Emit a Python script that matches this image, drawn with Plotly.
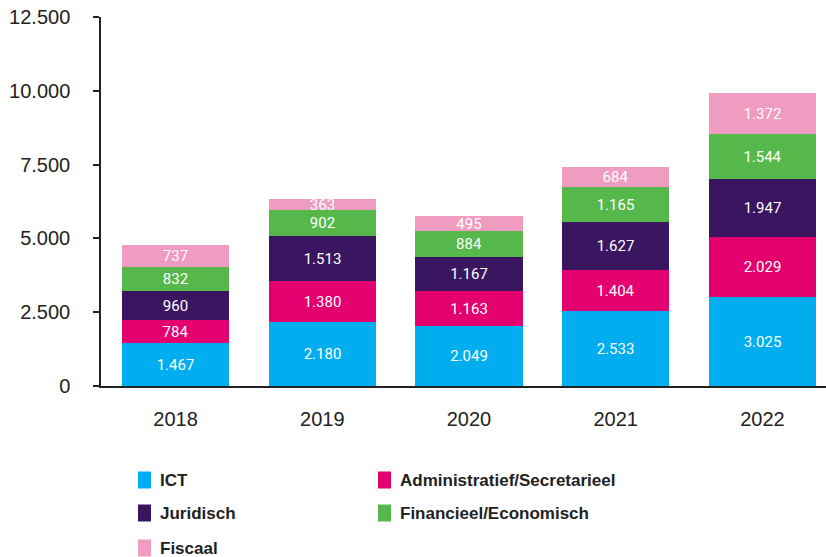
import plotly.graph_objects as go

years = ["2018", "2019", "2020", "2021", "2022"]
series_names = ["ICT", "Administratief/Secretarieel", "Juridisch", "Financieel/Economisch", "Fiscaal"]
ict = [1467, 2180, 2049, 2533, 3025]
administratief = [784, 1380, 1163, 1404, 2029]
juridisch = [960, 1513, 1167, 1627, 1947]
financieel = [832, 902, 884, 1165, 1544]
fiscaal = [737, 363, 495, 684, 1372]
series_values = [ict, administratief, juridisch, financieel, fiscaal]
colors = ["#00AEEF", "#E5006F", "#3A1560", "#56B84A", "#F09BC0"]
y_ticks = [0, 2500, 5000, 7500, 10000, 12500]

W, H = 826, 557
L, R, T, B = 101, 0, 17, 171

fig = go.Figure()
for name, vals, col in zip(series_names, series_values, colors):
    fig.add_trace(go.Bar(
        x=list(range(len(years))), y=vals, name=name,
        marker=dict(color=col, line=dict(width=0)),
        width=0.73,
        texttemplate="%{y:,d}", textposition="inside",
        insidetextanchor="middle", textangle=0,
        textfont=dict(family="Roboto", size=15, color="white"),
        constraintext="none", showlegend=False, hoverinfo="skip",
    ))

# legend drawn by hand: squares + bold labels in two columns
def px(x):
    return (x - L) / (W - L - R)

def py(y):
    return (H - B - y) / (H - T - B)

legend_pos = [(138, 480), (378, 480), (138, 513), (378, 513), (138, 548)]
shapes, annotations = [], []
for name, col, (lx, ly) in zip(series_names, colors, legend_pos):
    shapes.append(dict(type="rect", xref="paper", yref="paper",
                       x0=px(lx), x1=px(lx + 13), y0=py(ly - 8.5), y1=py(ly + 8.5),
                       fillcolor=col, line=dict(width=0)))
    annotations.append(dict(xref="paper", yref="paper", x=px(lx + 20), y=py(ly),
                            text="<b>" + name + "</b>", showarrow=False,
                            xanchor="left", yanchor="middle",
                            font=dict(family="Liberation Sans Narrow, Liberation Sans", size=17, color="#222222")))

fig.update_layout(
    width=W, height=H,
    margin=dict(l=L, r=R, t=T, b=B),
    barmode="stack", bargap=0,
    separators=",.",
    plot_bgcolor="white", paper_bgcolor="white",
    uniformtext=dict(minsize=15, mode="show"),
    shapes=shapes, annotations=annotations,
    xaxis=dict(
        range=[-0.508, 4.433], tickmode="array",
        tickvals=list(range(len(years))), ticktext=years,
        showline=True, linecolor="#222222", linewidth=1.5,
        showgrid=False, zeroline=False, ticks="",
        ticklabelstandoff=14,
        tickfont=dict(family="Liberation Sans", size=20, color="#222222"),
    ),
    yaxis=dict(
        range=[0, 12500], tickvals=y_ticks, tickformat=",d",
        showline=True, linecolor="#222222", linewidth=1.5,
        showgrid=False, zeroline=False,
        ticks="outside", ticklen=6, tickcolor="#222222", tickwidth=1.5,
        ticklabelstandoff=19,
        tickfont=dict(family="Liberation Sans", size=20, color="#222222"),
    ),
)

fig.write_html("out.html", config={"displayModeBar": False},
               post_script="document.body.style.margin='0';")
